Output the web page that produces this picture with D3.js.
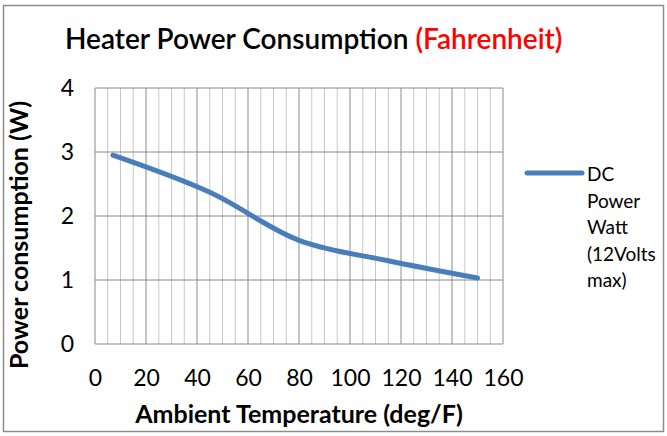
<!DOCTYPE html>
<html>
<head>
<meta charset="utf-8">
<script src="https://cdnjs.cloudflare.com/ajax/libs/d3/7.8.5/d3.min.js"></script>
<style>
  body { margin: 0; background: #fff; }
  text { font-family: Lato, "Open Sans", sans-serif; }
</style>
</head>
<body>
<svg id="chart" width="667" height="436"></svg>
<script>
// data
const temps = [7, 45, 80, 115, 150];
const watts = [2.95, 2.37, 1.62, 1.30, 1.03];
const xTicks = [0, 20, 40, 60, 80, 100, 120, 140, 160];
const yTicks = [0, 1, 2, 3, 4];
const legendLines = ["DC", "Power", "Watt", "(12Volts", "max)"];

const svgW = 667, svgH = 436;
const margin = { top: 88, right: 164, bottom: 92, left: 95 };
const width = svgW - margin.left - margin.right,
  height = svgH - margin.top - margin.bottom;

const svg = d3.select("#chart");

// outer border
svg.append("rect")
  .attr("x", 3.5).attr("y", 5.5)
  .attr("width", svgW - 7).attr("height", svgH - 10)
  .attr("fill", "none").attr("stroke", "#8c8c8c").attr("stroke-width", 1.5);

const x = d3.scaleLinear().domain([0, 160]).range([0, width]);
const y = d3.scaleLinear().domain([0, 4]).range([height, 0]);

const g = svg.append("g")
  .attr("transform", "translate(" + margin.left + "," + margin.top + ")");

// minor verticals every 5
g.selectAll(".minor")
  .data(d3.range(0, 161, 5).filter(d => d % 20 !== 0))
  .enter().append("line")
  .attr("x1", d => x(d)).attr("x2", d => x(d))
  .attr("y1", 0).attr("y2", height)
  .attr("stroke", "#c8c8c8").attr("stroke-width", 1);

// major verticals
g.selectAll(".vmajor")
  .data(xTicks)
  .enter().append("line")
  .attr("x1", d => x(d)).attr("x2", d => x(d))
  .attr("y1", 0).attr("y2", height)
  .attr("stroke", "#8a8a8a").attr("stroke-width", 1);

// major horizontals
g.selectAll(".hmajor")
  .data(yTicks)
  .enter().append("line")
  .attr("x1", 0).attr("x2", width)
  .attr("y1", d => y(d)).attr("y2", d => y(d))
  .attr("stroke", "#8a8a8a").attr("stroke-width", 1);

// axes labels (ticks only text)
const xAxis = g.append("g")
  .attr("transform", "translate(0," + height + ")")
  .call(d3.axisBottom(x).tickValues(xTicks).tickSize(0).tickPadding(26));
xAxis.select(".domain").remove();
xAxis.selectAll("text")
  .attr("font-family", "Lato, sans-serif")
  .attr("font-size", "23px").attr("fill", "#000");

const yAxis = g.append("g")
  .call(d3.axisLeft(y).tickValues(yTicks).tickFormat(d3.format("d")).tickSize(0).tickPadding(21));
yAxis.select(".domain").remove();
yAxis.selectAll("text")
  .attr("font-family", "Lato, sans-serif")
  .attr("font-size", "23px").attr("fill", "#000");

// the line
const line = d3.line()
  .x((d, i) => x(temps[i]))
  .y(d => y(d))
  .curve(d3.curveCatmullRom);

g.append("path")
  .datum(watts)
  .attr("d", line)
  .attr("fill", "none")
  .attr("stroke", "#4a7ebb")
  .attr("stroke-width", 5)
  .attr("stroke-linecap", "round");

// title
const title = svg.append("text")
  .attr("x", 65).attr("y", 49)
  .attr("font-size", "28px").attr("font-weight", 600);
title.append("tspan").attr("fill", "#000").text("Heater Power Consumption ");
title.append("tspan").attr("fill", "#ff0000").text("(Fahrenheit)");

// axis titles
svg.append("text")
  .attr("x", 299).attr("y", 423)
  .attr("text-anchor", "middle")
  .attr("font-size", "25px").attr("font-weight", 700)
  .text("Ambient Temperature (deg/F)");

svg.append("text")
  .attr("transform", "translate(28,235) rotate(-90)")
  .attr("text-anchor", "middle")
  .attr("font-size", "25px").attr("font-weight", 700)
  .text("Power consumption (W)");

// legend
const lg = svg.append("g").attr("transform", "translate(527,173)");
lg.append("line")
  .attr("x1", 0).attr("x2", 55).attr("y1", 0).attr("y2", 0)
  .attr("stroke", "#4a7ebb").attr("stroke-width", 5)
  .attr("stroke-linecap", "round");
lg.selectAll("text")
  .data(legendLines)
  .enter().append("text")
  .attr("x", 60)
  .attr("y", (d, i) => 8 + i * 26.5)
  .attr("font-size", "19px")
  .attr("fill", "#000")
  .text(d => d);
</script>
</body>
</html>
